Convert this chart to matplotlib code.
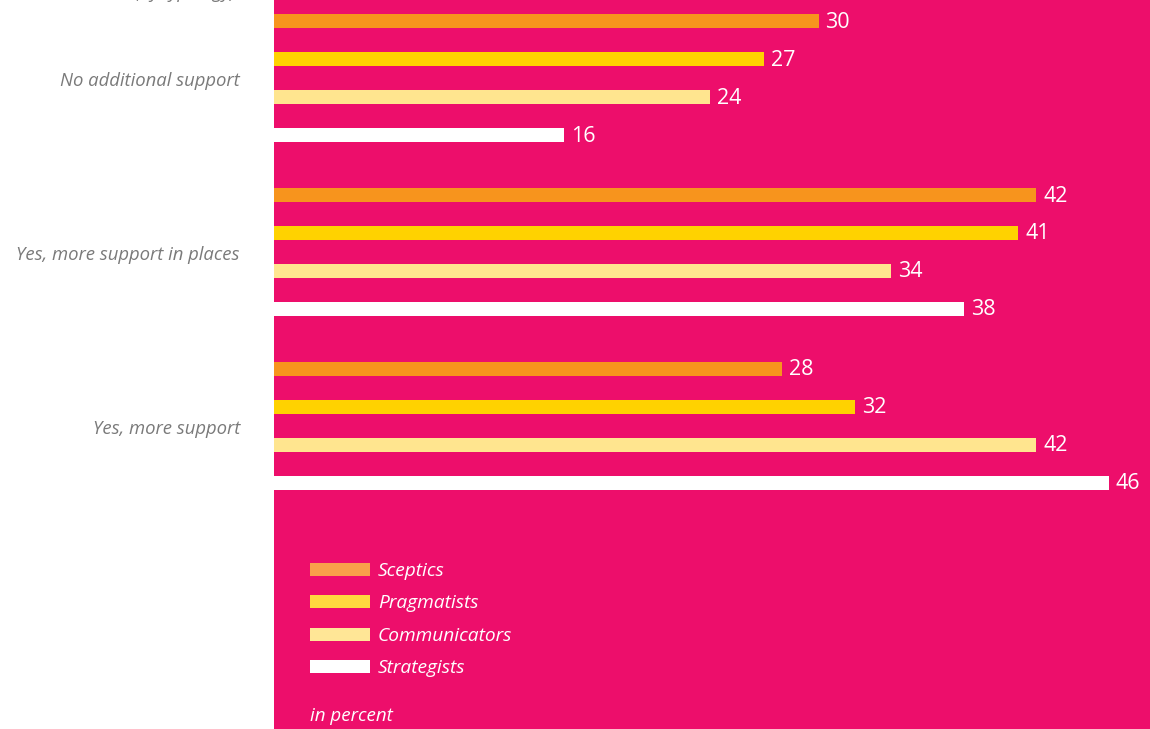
import matplotlib
matplotlib.use("Agg")
import matplotlib.pyplot as plt
from matplotlib.patches import Rectangle
import numpy as np

plt.rcParams['font.family'] = ['Open Sans', 'DejaVu Sans']

categories = ["No additional support", "Yes, more support in places", "Yes, more support"]
series = ["Sceptics", "Pragmatists", "Communicators", "Strategists"]
values = {
    "Sceptics":      [30, 42, 28],
    "Pragmatists":   [27, 41, 32],
    "Communicators": [24, 34, 42],
    "Strategists":   [16, 38, 46],
}
bar_colors = ["#F7941D", "#FFD200", "#FFE58F", "#FFFFFF"]
legend_colors = ["#F9A04A", "#FFD93F", "#FFE696", "#FFFFFF"]
bg = "#ED0E6B"
gray = "#7A7A7A"

W, H = 1150, 729
fig = plt.figure(figsize=(W / 100, H / 100), dpi=100)
fig.patch.set_facecolor("white")

left_px = 274
ax = fig.add_axes([left_px / W, 0, 1 - left_px / W, 1])
ax.set_facecolor(bg)
px_per_unit = 18.15
ax.set_xlim(0, (W - left_px) / px_per_unit)

slot = 38.0            # px per bar slot
group_step = 174 / slot
first_center = 78 / slot
ax.set_ylim((H / slot) - first_center, -first_center)

bar_h = 14 / slot
n = len(series)
for gi, cat in enumerate(categories):
    gc = gi * group_step
    for si, s in enumerate(series):
        y = gc + (si - (n - 1) / 2)
        v = values[s][gi]
        ax.barh(y, v, height=bar_h, color=bar_colors[si], linewidth=0)
        ax.text(v + 7 / px_per_unit, y + 1 / slot, str(v), color="white", fontsize=15.5,
                va="center", ha="left")
    fig.text((240) / W, 1 - (gc * slot + 81) / H, cat, ha="right", va="center",
             fontsize=13.3, style="italic", color=gray)

for sp in ax.spines.values():
    sp.set_visible(False)
ax.set_xticks([])
ax.set_yticks([])

# partially visible text at the top (cut off in the reference as well)
fig.text(240 / W, 1 + 2 / H, "(by typology),", ha="right", va="baseline",
         fontsize=13, style="italic", color=gray)

# legend
leg_y = [569, 601, 634, 666]
for si, s in enumerate(series):
    yc = leg_y[si]
    fig.patches.append(Rectangle((310 / W, 1 - (yc + 6.5) / H), 60 / W, 13 / H,
                                 transform=fig.transFigure, facecolor=legend_colors[si],
                                 edgecolor="none", zorder=5))
    fig.text(378 / W, 1 - (yc + 2) / H, s, ha="left", va="center", fontsize=13.8,
             style="italic", color="white", zorder=6)

fig.text(310 / W, 1 - 716 / H, "in percent", ha="left", va="center", fontsize=13.5,
         style="italic", color="white")

fig.savefig("out.png", dpi=100, facecolor=fig.get_facecolor())
